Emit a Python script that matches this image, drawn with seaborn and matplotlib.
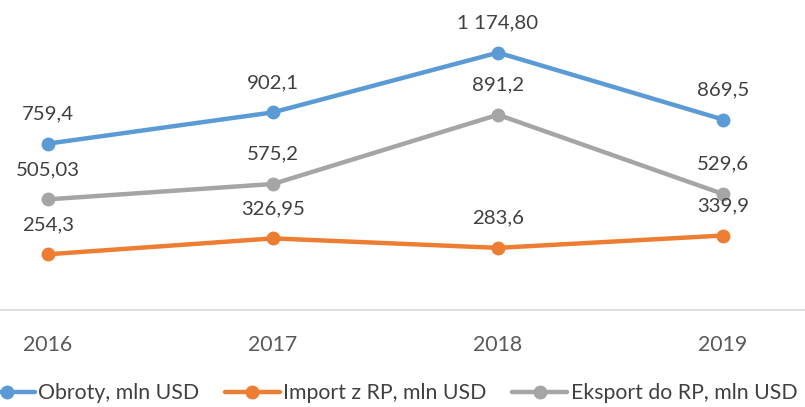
import matplotlib
matplotlib.use("Agg")
import matplotlib.pyplot as plt
import seaborn as sns
import pandas as pd

years = ["2016", "2017", "2018", "2019"]
series_names = ["Obroty, mln USD", "Import z RP, mln USD", "Eksport do RP, mln USD"]
obroty = [759.4, 902.1, 1174.80, 869.5]
import_rp = [254.3, 326.95, 283.6, 339.9]
eksport_rp = [505.03, 575.2, 891.2, 529.6]
labels_obroty = ["759,4", "902,1", "1 174,80", "869,5"]
labels_import = ["254,3", "326,95", "283,6", "339,9"]
labels_eksport = ["505,03", "575,2", "891,2", "529,6"]
colors = ["#5B9BD5", "#ED7D31", "#A5A5A5"]

sns.set_theme(style="white")
plt.rcParams["font.family"] = ["Lato", "DejaVu Sans"]

rows = []
for name, vals in zip(series_names, [obroty, import_rp, eksport_rp]):
    for i, v in enumerate(vals):
        rows.append({"idx": i, "value": v, "series": name})
df = pd.DataFrame(rows)

fig = plt.figure(figsize=(8.05, 4.07), dpi=100)
ax = fig.add_axes([0, 97 / 407, 1, 310 / 407])

sns.lineplot(data=df, x="idx", y="value", hue="series", hue_order=series_names,
             palette=colors, marker="o", markersize=10, markeredgewidth=0,
             linewidth=3.2, ax=ax)

text_color = "#404040"
for vals, labs in zip([obroty, import_rp, eksport_rp],
                      [labels_obroty, labels_import, labels_eksport]):
    for i, (v, lab) in enumerate(zip(vals, labs)):
        ax.annotate(lab, (i, v), xytext=(0, 21.5), textcoords="offset points",
                    ha="center", va="center", fontsize=14.7, color=text_color)

ax.set_xlim(-48 / 225, (805 - 48) / 225)
ax.set_ylim(0, 1415)
ax.set_yticks([])
ax.set_xticks(range(len(years)))
ax.set_xticklabels(years, fontsize=15.3, color="#595959")
ax.tick_params(axis="x", length=0, pad=18)
ax.set_xlabel("")
ax.set_ylabel("")
for s in ["top", "left", "right"]:
    ax.spines[s].set_visible(False)
ax.spines["bottom"].set_color("#D9D9D9")
ax.spines["bottom"].set_linewidth(1.2)

handles, labels = ax.get_legend_handles_labels()
ax.get_legend().remove()
fig.legend(handles, labels, loc="center", bbox_to_anchor=(388.5 / 805, 1 - 393 / 407),
           ncol=3, frameon=False, fontsize=15.3, handlelength=2.6, handletextpad=0.15,
           columnspacing=1.2, labelcolor=text_color)

fig.savefig("out.png", dpi=100)
